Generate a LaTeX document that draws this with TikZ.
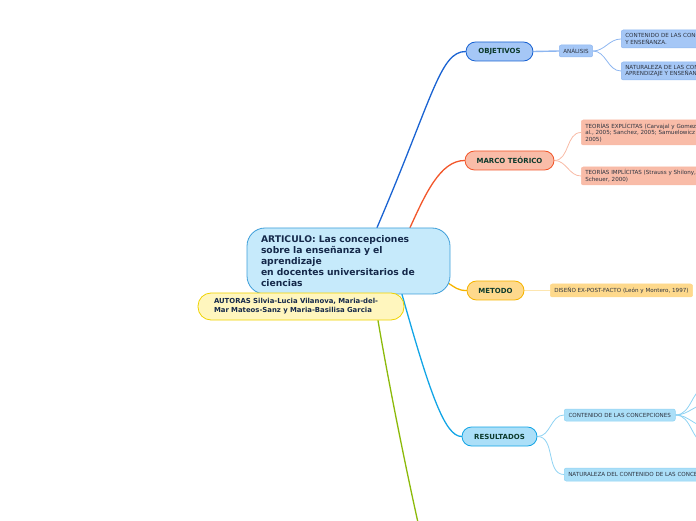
\documentclass[tikz,border=0pt]{standalone}
\usepackage{fontspec}
\setmainfont{DejaVu Sans}
\usetikzlibrary{backgrounds}
\definecolor{mmart}{HTML}{3D9ED9}
\definecolor{mmartfill}{HTML}{C6EAFB}
\definecolor{mmaut}{HTML}{EFD300}
\definecolor{mmautfill}{HTML}{FFF6BE}
\definecolor{mmobj}{HTML}{1A63D2}
\definecolor{mmobjfill}{HTML}{A5C7F6}
\definecolor{mmobjtwig}{HTML}{8DB6F0}
\definecolor{mmmarco}{HTML}{F2562A}
\definecolor{mmmarcofill}{HTML}{F9BCA8}
\definecolor{mmmarcotwig}{HTML}{F8BBA6}
\definecolor{mmmet}{HTML}{F6B400}
\definecolor{mmmetfill}{HTML}{FED98C}
\definecolor{mmmettwig}{HTML}{FDE6B0}
\definecolor{mmres}{HTML}{12A5E6}
\definecolor{mmresfill}{HTML}{ABDFF8}
\definecolor{mmrestwig}{HTML}{8FD3F3}
\definecolor{mmgreen}{HTML}{8CBA0A}
\definecolor{mminkart}{HTML}{15294A}
\definecolor{mminklab}{HTML}{0C3A2C}
\definecolor{mminkleaf}{HTML}{2E3440}

\tikzset{
  hub/.style={rectangle, rounded corners=18pt, line width=0.8pt, align=left,
    font=\fontsize{9.2}{11}\selectfont\bfseries, text=mminkart},
  branch/.style={rectangle, rounded corners=9.5pt, minimum height=19pt, line width=0.8pt,
    font=\fontsize{7}{8}\selectfont\bfseries, text=mminklab},
  leaf/.style={rectangle, rounded corners=2pt, anchor=west, align=left, line width=0.5pt,
    inner xsep=4pt, inner ysep=2.5pt, font=\fontsize{5.6}{6.6}\selectfont, text=mminkleaf},
  limb/.style={line width=1.3pt, line cap=round},
  twig/.style={line width=0.8pt},
}

\begin{document}
\begin{tikzpicture}[x=1pt,y=1pt]
  \useasboundingbox (0,0) rectangle (696,520);
  \clip (0,0) rectangle (696,520);

  % centre and authors
  \node[hub, draw=mmart, fill=mmartfill, minimum width=203pt, minimum height=66pt, text width=175pt]
    (art) at (348.5,259) {ARTICULO: Las concepciones\\sobre la enseñanza y el\\aprendizaje\\en docentes universitarios de\\ciencias};
  \node[hub, draw=mmaut, fill=mmautfill, rounded corners=13pt, minimum width=206pt, minimum height=27pt,
    text width=174pt, font=\fontsize{6.9}{9}\selectfont\bfseries]
    (aut) at (301,213.5) {AUTORAS Silvia-Lucia Vilanova, Maria-del-\\Mar Mateos-Sanz y Maria-Basilisa Garcia};

  % main branches
  \node[branch, draw=mmobj, fill=mmobjfill, minimum width=67pt] (obj) at (499.5,468.5) {OBJETIVOS};
  \node[branch, draw=mmmarco, fill=mmmarcofill, minimum width=89pt] (marco) at (509.5,359.5) {MARCO TEÓRICO};
  \node[branch, draw=mmmet, fill=mmmetfill, minimum width=57pt] (met) at (495.5,229.5) {METODO};
  \node[branch, draw=mmres, fill=mmresfill, minimum width=75pt] (res) at (499.5,83.5) {RESULTADOS};

  % leaves
  \node[leaf, draw=mmobjtwig, fill=mmobjfill, minimum height=12pt] (ana) at (559,469) {ANÁLISIS};
  \node[leaf, draw=mmobjtwig, fill=mmobjfill, minimum height=18pt] (cont) at (621,481)
    {CONTENIDO DE LAS CONCEPCIONES SOBRE APRENDIZAJE\\Y ENSEÑANZA.};
  \node[leaf, draw=mmobjtwig, fill=mmobjfill, minimum height=18pt] (nat) at (621,449)
    {NATURALEZA DE LAS CONCEPCIONES SOBRE\\APRENDIZAJE Y ENSEÑANZA.};
  \node[leaf, draw=mmmarcotwig, fill=mmmarcofill, minimum height=25pt] (texp) at (581,387.5)
    {TEORÍAS EXPLÍCITAS (Carvajal y Gomez, 2002; Porlán et\\al., 2005; Sanchez, 2005; Samuelowicz y Bain, 2001;\\2005)};
  \node[leaf, draw=mmmarcotwig, fill=mmmarcofill, minimum height=18pt] (timp) at (581,344)
    {TEORÍAS IMPLÍCITAS (Strauss y Shilony, 1994; Pozo y\\Scheuer, 2000)};
  \node[leaf, draw=mmmetfill, fill=mmmetfill, minimum height=13pt] (dis) at (550,229.5)
    {DISEÑO EX-POST-FACTO (León y Montero, 1997)};
  \node[leaf, draw=mmrestwig, fill=mmresfill, minimum height=12pt, minimum width=111pt] (conc) at (564,105)
    {CONTENIDO DE LAS CONCEPCIONES};
  \node[leaf, draw=mmrestwig, fill=mmresfill, minimum height=13pt] (natc) at (564,45.5)
    {NATURALEZA DEL CONTENIDO DE LAS CONCEPCIONES};

  \coordinate (green) at (422,-20);
  \coordinate (r1) at (708,133);
  \coordinate (r2) at (708,116);
  \coordinate (r3) at (708,93);
  \coordinate (r4) at (708,76);

  % connectors
  \begin{scope}[on background layer]
    \draw[limb, mmobj] ([xshift=28.5pt]art.north) .. controls (433,423) and (440,468.5) .. (obj.west);
    \draw[limb, mmmarco] ([xshift=61.5pt]art.north) .. controls (425,325) and (440,359.5) .. (marco.west);
    \draw[limb, mmmet] ([xshift=-4pt,yshift=-21pt]art.east) .. controls (456,232) and (458,229.5) .. (met.west);
    \draw[limb, mmres] ([xshift=53.5pt]art.south) .. controls (430,126) and (445,83.5) .. (res.west);
    \draw[limb, mmgreen] ([xshift=77pt]aut.south) .. controls (388,140) and (408,40) .. (green);

    \draw[twig, line width=1.4pt, mmobjtwig] (obj.east) -- (ana.west);
    \draw[twig, mmobjtwig] (ana.east) to[out=0,in=180] (cont.west);
    \draw[twig, mmobjtwig] (ana.east) to[out=0,in=180] (nat.west);
    \draw[twig, mmmarcotwig] (marco.east) to[out=0,in=180] (texp.west);
    \draw[twig, mmmarcotwig] (marco.east) to[out=0,in=180] (timp.west);
    \draw[twig, line width=1.4pt, mmmettwig] (met.east) -- (dis.west);
    \draw[twig, mmrestwig] (res.east) to[out=0,in=180] (conc.west);
    \draw[twig, mmrestwig] (res.east) to[out=0,in=180] (natc.west);
    \foreach \r in {r1,r2,r3,r4}
      \draw[twig, mmrestwig] (conc.east) to[out=0,in=180] (\r);
  \end{scope}
\end{tikzpicture}
\end{document}
